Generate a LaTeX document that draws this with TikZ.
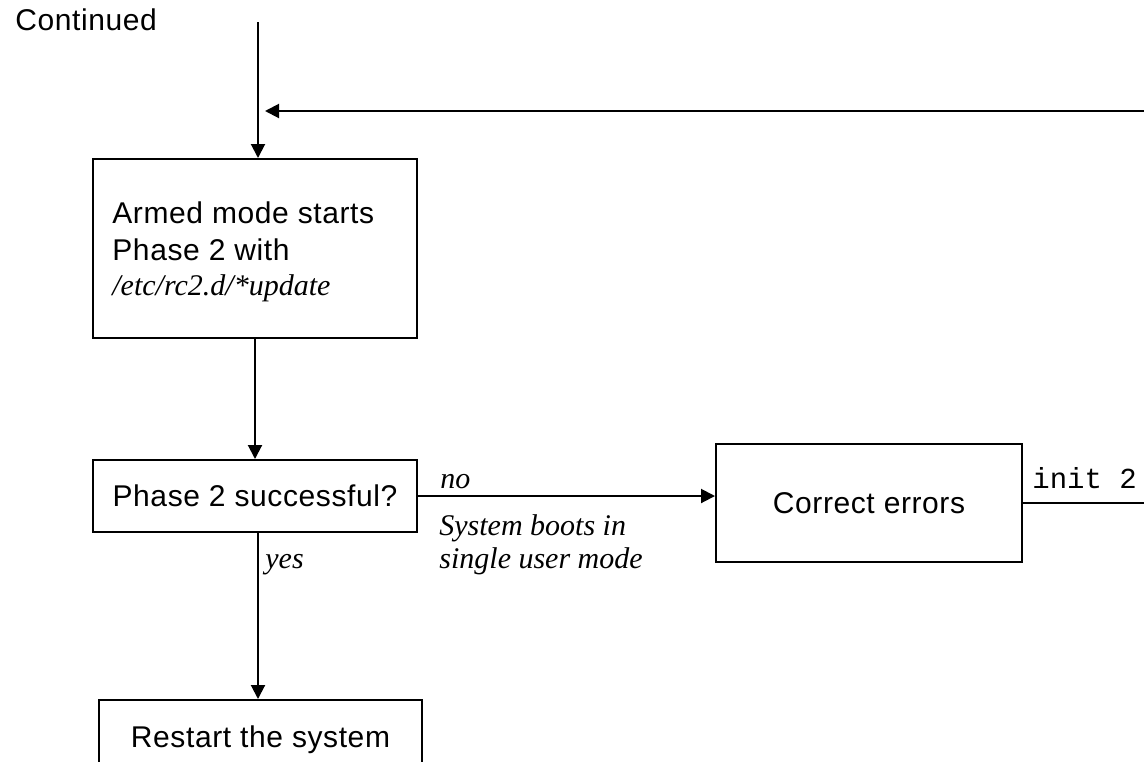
\documentclass[tikz,border=0pt]{standalone}
\usepackage{fontspec}
\setmainfont{Liberation Sans}[LetterSpace=2]
\newfontfamily\tms{Liberation Serif}
\newfontfamily\mono{Liberation Mono}
\usetikzlibrary{arrows.meta}
\begin{document}
\begin{tikzpicture}[x=0.5pt,y=-0.5pt,
  box/.style={draw, line width=1pt, inner sep=0pt, font=\fontsize{15}{18}\selectfont},
  conn/.style={line width=1pt},
  arr/.style={conn, -{Triangle[length=7pt,width=7pt]}},
  lab/.style={font=\tms\itshape\fontsize{15}{16.5}\selectfont, inner sep=0pt, anchor=base west},
  txt/.style={font=\fontsize{15}{18}\selectfont, inner sep=0pt, anchor=base west}]
\useasboundingbox (0,0) rectangle (1144,761);
\clip (0,0) rectangle (1144,761);
\node[txt] (cont) at (15,30) {Continued};
\coordinate (top) at (258,22);
\coordinate (ret) at (265,111);
\coordinate (far) at (1200,0);
\node[box, minimum width=162pt, minimum height=89.5pt] (b1) at (255,248.5) {};
\node[txt] (b1a) at (112,223) {Armed mode starts};
\node[txt] (b1b) at (112,260) {Phase 2 with};
\node[lab] (b1c) at (112,295) {/etc/rc2.d/*update};
\node[box, minimum width=162pt, minimum height=36pt] (b2) at (255,496) {Phase 2 successful?};
\node[box, minimum width=153pt, minimum height=59pt] (b4) at (869,503) {Correct errors};
\node[box, minimum width=161.5pt, minimum height=40pt] (b3) at (260.5,740) {Restart the system};
\draw[arr] (top) -- (top |- b1.north);
\draw[arr] (b1.south) -- (b2.north);
\draw[arr] (b2.south -| top) -- (b3.north -| top);
\draw[arr] (b2.east) -- (b2.east -| b4.west);
\draw[arr] (b4.east) -- (b4.east -| far) |- (ret);
\node[lab] (no) at (440,488) {no};
\node[lab] (sb1) at (439,535) {System boots in};
\node[lab] (sb2) at (439,568) {single user mode};
\node[lab] (yes) at (265,568) {yes};
\node[txt, font=\mono\fontsize{14.5}{16}\selectfont] (init) at (1032,488) {init 2};
\end{tikzpicture}
\end{document}
